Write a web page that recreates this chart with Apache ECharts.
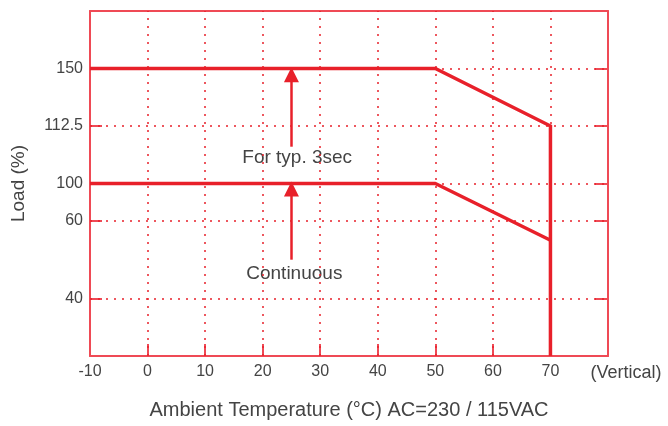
<!DOCTYPE html>
<html>
<head>
<meta charset="utf-8">
<script src="https://cdn.jsdelivr.net/npm/echarts@6/dist/echarts.min.js"></script>
<style>
html, body { margin: 0; background: #fff; }
#chart { width: 668px; height: 426px; }
</style>
</head>
<body>
<div id="chart"></div>
<script>
var tempTicks = [-10, 0, 10, 20, 30, 40, 50, 60, 70];
var loadTicks = [40, 60, 100, 112.5, 150];
// load axis is not linear: every load sits on a slot of the plot height (0..6)
var loadAnchors = [0, 40, 60, 100, 112.5, 150, 175];
var slotAnchors = [0, 1, 2.35, 3, 4, 5, 6];

var peakTemp = [-10, 50, 70, 70];
var peakLoad = [150, 150, 112.5, 0];
var contTemp = [-10, 50, 70];
var contLoad = [100, 100, 55];

var arrowTemp = 25;
var peakArrow = [108, 146];
var contArrow = [50, 94];
var notes = ['For typ. 3sec', 'Continuous'];
var noteTemp = [26, 25.5];
var noteLoad = [105.5, 46.5];

var red = '#e8202a';
var frame = '#ef4a55';
var txt = '#444';

function slot(load) {
    for (var i = 1; i < loadAnchors.length; i++) {
        if (load <= loadAnchors[i]) {
            var t = (load - loadAnchors[i - 1]) / (loadAnchors[i] - loadAnchors[i - 1]);
            return slotAnchors[i - 1] + t * (slotAnchors[i] - slotAnchors[i - 1]);
        }
    }
    return slotAnchors[slotAnchors.length - 1];
}

var tickSlots = loadTicks.map(slot);

function pairs(xs, ys) {
    return xs.map((x, i) => [x, slot(ys[i])]);
}

var gridLines = tempTicks.slice(1).map(t => ({ xAxis: t }))
    .concat(tickSlots.map(s => ({ yAxis: s })));

var chart = echarts.init(document.getElementById('chart'));
chart.setOption({
    animation: false,
    textStyle: { fontFamily: 'Liberation Sans, Arial, sans-serif' },
    grid: { left: 90, right: 60, top: 11, bottom: 70 },
    xAxis: [{
        type: 'value',
        min: -10,
        max: 80,
        interval: 10,
        name: 'Ambient Temperature (°C) AC=230 / 115VAC',
        nameLocation: 'middle',
        nameGap: 44,
        nameTextStyle: { color: txt, fontSize: 20 },
        axisLine: { onZero: false, lineStyle: { color: frame, width: 2 } },
        axisTick: { inside: true, length: 12, lineStyle: { color: frame, width: 2 } },
        axisLabel: {
            color: txt,
            fontSize: 16,
            margin: 8,
            formatter: v => v === 80 ? '{v|(Vertical)}' : String(v),
            rich: { v: { fontSize: 18, color: txt, padding: [0, 0, 0, 36] } }
        },
        splitLine: { show: false }
    }, {
        type: 'value',
        position: 'top',
        min: -10,
        max: 80,
        axisLine: { show: true, onZero: false, lineStyle: { color: frame, width: 2 } },
        axisTick: { show: false },
        axisLabel: { show: false },
        splitLine: { show: false }
    }],
    yAxis: [{
        type: 'value',
        min: 0,
        max: 6,
        name: 'Load (%)',
        nameLocation: 'middle',
        nameGap: 62,
        nameTextStyle: { color: txt, fontSize: 19 },
        axisLine: { show: true, onZero: false, lineStyle: { color: frame, width: 2 } },
        axisTick: { inside: true, length: 12, customValues: tickSlots, lineStyle: { color: frame, width: 2 } },
        axisLabel: {
            color: txt,
            fontSize: 16,
            margin: 7,
            customValues: tickSlots,
            formatter: v => String(loadTicks[tickSlots.indexOf(v)])
        },
        splitLine: { show: false }
    }, {
        type: 'value',
        position: 'right',
        min: 0,
        max: 6,
        axisLine: { show: true, onZero: false, lineStyle: { color: frame, width: 2 } },
        axisTick: { inside: true, length: 13, customValues: tickSlots, lineStyle: { color: frame, width: 2 } },
        axisLabel: { show: false },
        splitLine: { show: false }
    }],
    series: [{
        type: 'line',
        data: [],
        z: 1,
        markLine: {
            silent: true,
            symbol: 'none',
            label: { show: false },
            lineStyle: { color: red, width: 1.5, type: [2, 6] },
            data: gridLines
        }
    }, {
        type: 'line',
        data: pairs(peakTemp, peakLoad),
        showSymbol: false,
        z: 3,
        lineStyle: { color: red, width: 3.5, join: 'miter' }
    }, {
        type: 'line',
        data: pairs(contTemp, contLoad),
        showSymbol: false,
        z: 3,
        lineStyle: { color: red, width: 3.5 }
    }, {
        type: 'line',
        data: [],
        z: 3,
        markLine: {
            silent: true,
            symbol: ['none', 'triangle'],
            symbolSize: 15,
            label: { show: false },
            lineStyle: { color: red, width: 2.5, type: 'solid' },
            data: [
                [{ coord: [arrowTemp, slot(peakArrow[0])] }, { coord: [arrowTemp, slot(peakArrow[1])] }],
                [{ coord: [arrowTemp, slot(contArrow[0])] }, { coord: [arrowTemp, slot(contArrow[1])] }]
            ]
        }
    }, {
        type: 'scatter',
        symbolSize: 1,
        itemStyle: { color: 'rgba(0,0,0,0)', opacity: 1 },
        z: 4,
        label: {
            show: true,
            position: 'inside',
            color: txt,
            fontSize: 19,
            formatter: p => notes[p.dataIndex]
        },
        data: pairs(noteTemp, noteLoad)
    }]
});
</script>
</body>
</html>
